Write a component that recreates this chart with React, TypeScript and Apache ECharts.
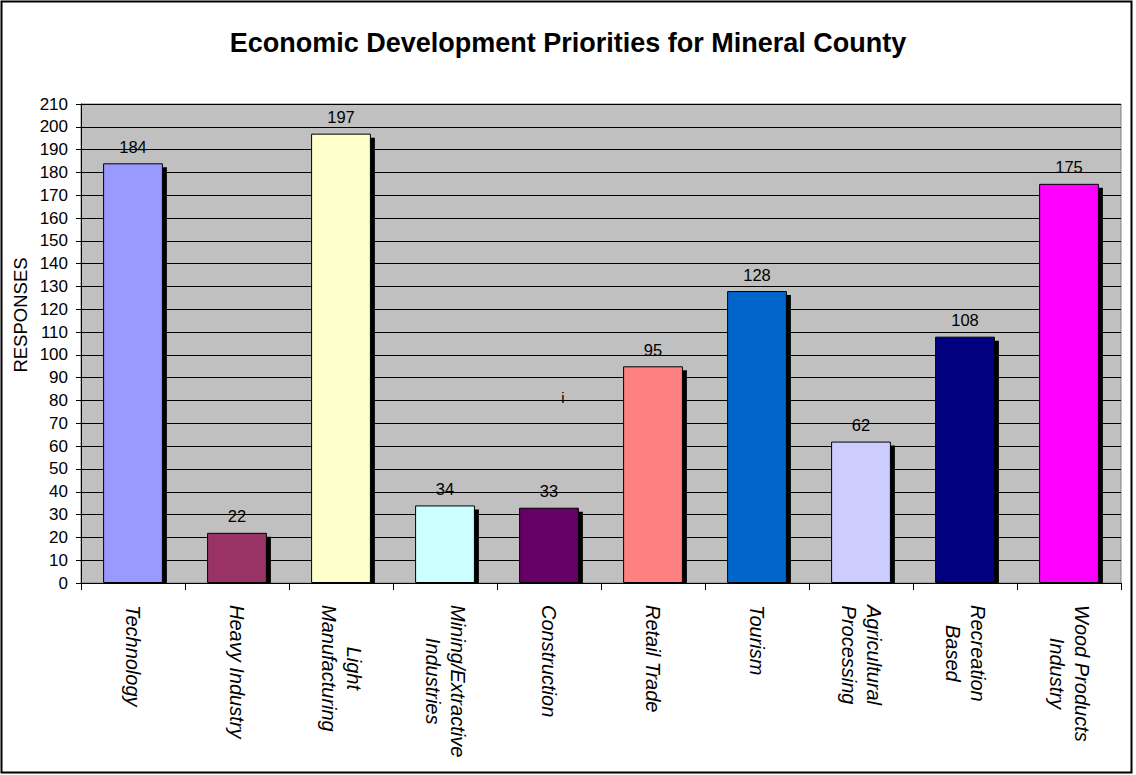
import React, { useEffect, useRef } from 'react';
import * as echarts from 'echarts';

const titleText = 'Economic Development Priorities for Mineral County';
const yAxisTitle = 'RESPONSES';
const categories = [
  'Technology',
  'Heavy Industry',
  'Light\nManufacturing',
  'Mining/Extractive\nIndustries',
  'Construction',
  'Retail Trade',
  'Tourism',
  'Agricultural\nProcessing',
  'Recreation\nBased',
  'Wood Products\nIndustry',
];
const responses = [184, 22, 197, 34, 33, 95, 128, 62, 108, 175];
const barColors = [
  '#9999FF',
  '#993366',
  '#FFFFCC',
  '#CCFFFF',
  '#660066',
  '#FF8080',
  '#0066CC',
  '#CCCCFF',
  '#000080',
  '#FF00FF',
];
const yMin = 0;
const yMax = 210;
const yStep = 10;
const strayNote = 'i';

const FONT = '"Liberation Sans", Arial, sans-serif';
const BAR_RATIO = 0.575;
const SHADOW = 4;

export default function App() {
  const ref = useRef<HTMLDivElement>(null);

  useEffect(() => {
    document.body.style.margin = '0';
    if (!ref.current) return;
    const chart = echarts.init(ref.current, undefined, { renderer: 'svg' });

    const option: any = {
      animation: false,
      backgroundColor: '#ffffff',
      textStyle: { fontFamily: FONT, color: '#000' },
      title: {
        text: titleText,
        left: 'center',
        top: 24,
        textStyle: { fontFamily: FONT, fontSize: 27, fontWeight: 'bold', color: '#000' },
      },
      grid: {
        left: 81,
        top: 104,
        right: 15,
        bottom: 192,
        show: true,
        backgroundColor: '#C0C0C0',
        borderColor: '#808080',
        borderWidth: 1,
      },
      xAxis: {
        type: 'category',
        data: categories,
        boundaryGap: true,
        axisLine: { show: true, lineStyle: { color: '#000', width: 1 } },
        axisTick: { show: true, length: 7, interval: 0, lineStyle: { color: '#000' } },
        axisLabel: {
          interval: 0,
          rotate: -90,
          margin: 22,
          formatter: (v: string) => v.split('\n').map((l) => `{c|${l}}`).join('\n'),
          rich: {
            c: {
              align: 'center',
              fontFamily: FONT,
              fontSize: 20,
              fontStyle: 'italic',
              lineHeight: 25,
              color: '#000',
            },
          },
        },
        splitLine: { show: false },
      },
      yAxis: {
        type: 'value',
        min: yMin,
        max: yMax,
        interval: yStep,
        axisLine: { show: true, lineStyle: { color: '#000', width: 1 } },
        axisTick: { show: true, length: 5, lineStyle: { color: '#000' } },
        axisLabel: { margin: 13, fontFamily: FONT, fontSize: 17, color: '#000' },
        splitLine: { show: true, lineStyle: { color: '#000', width: 1 } },
      },
      series: [
        {
          type: 'custom',
          z: 1,
          silent: true,
          data: responses.map((v, i) => [i, v]),
          renderItem: (params: any, api: any) => {
            const idx = api.value(0);
            const val = api.value(1);
            const top = api.coord([idx, val]);
            const base = api.coord([idx, 0]);
            const band = api.size([1, 0])[0];
            const w = band * BAR_RATIO;
            return {
              type: 'rect',
              shape: {
                x: top[0] - w / 2 + SHADOW,
                y: top[1] + SHADOW,
                width: w,
                height: Math.max(0, base[1] - top[1] - SHADOW),
              },
              style: { fill: '#000' },
            };
          },
        },
        {
          type: 'bar',
          z: 3,
          barWidth: `${BAR_RATIO * 100}%`,
          data: responses.map((v, i) => ({ value: v, itemStyle: { color: barColors[i] } })),
          itemStyle: { borderColor: '#000', borderWidth: 1 },
          label: {
            show: true,
            position: 'top',
            distance: 8,
            fontFamily: FONT,
            fontSize: 16.5,
            color: '#000',
          },
        },
      ],
      graphic: [
        {
          type: 'rect',
          silent: true,
          shape: { x: 1.5, y: 1.5, width: 1130, height: 771 },
          style: { fill: 'none', stroke: '#000', lineWidth: 2 },
          z: 100,
        },
        {
          type: 'text',
          x: 20,
          y: 315,
          rotation: Math.PI / 2,
          style: {
            text: yAxisTitle,
            fontFamily: FONT,
            fontSize: 18.5,
            fill: '#000',
            align: 'center',
            verticalAlign: 'middle',
          },
        },
        {
          type: 'text',
          x: 563,
          y: 397,
          z: 50,
          style: {
            text: strayNote,
            fontFamily: FONT,
            fontSize: 15,
            fill: '#000',
            align: 'center',
            verticalAlign: 'middle',
          },
        },
      ],
    };

    chart.setOption(option);
    return () => {
      chart.dispose();
    };
  }, []);

  return <div ref={ref} style={{ width: 1136, height: 775 }} />;
}
